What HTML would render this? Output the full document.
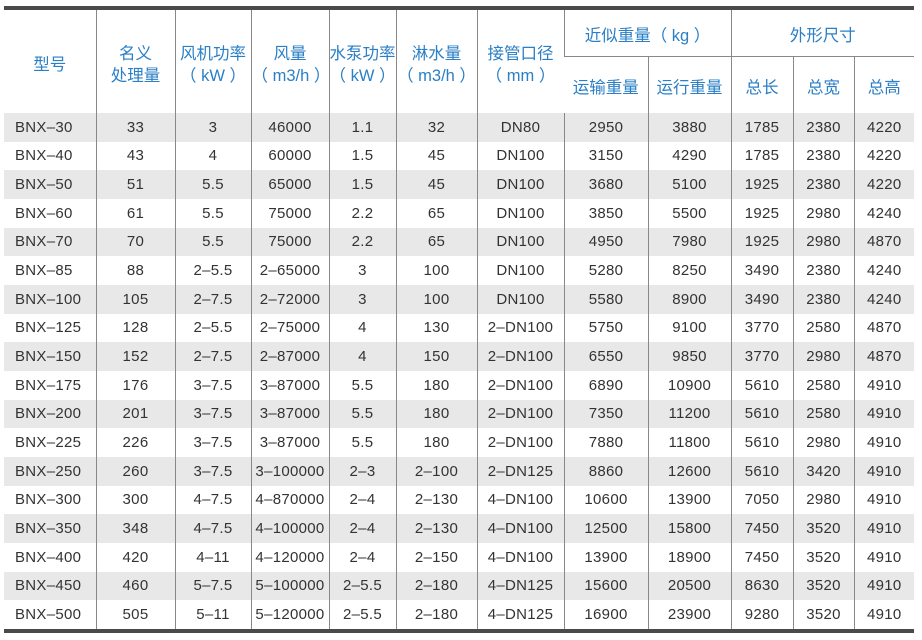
<!DOCTYPE html><html><head><meta charset="utf-8"><style>
body{margin:0;background:#fff;width:922px;height:640px;overflow:hidden;font-family:"Liberation Sans","Noto Sans CJK SC",sans-serif;}
.top{position:absolute;left:4px;top:6px;width:910px;height:4px;background:#4a4a4a}
.bot{position:absolute;left:4px;top:629px;width:910px;height:4px;background:#4a4a4a}
table{position:absolute;left:4px;top:10px;border-collapse:collapse;table-layout:fixed;width:910px}
td{padding:0;text-align:center;font-size:15px;color:#333;border-left:1.5px solid #888;white-space:nowrap;overflow:hidden;letter-spacing:0.3px}
td:first-child{border-left:none}
tr.h td{color:#2a7fc6;font-size:16.5px;line-height:22px;padding-top:6px;letter-spacing:0}
tr.d td{height:28.67px}
tr.d td:first-child{text-align:left;padding-left:11px}
tr.g td{background:#e8e8e8}
.sub{border-bottom:1.5px solid #888}
</style></head><body>
<div class="top"></div>
<table>
<colgroup><col style="width:92px"><col style="width:79px"><col style="width:76px"><col style="width:78px"><col style="width:67px"><col style="width:81px"><col style="width:87px"><col style="width:84px"><col style="width:83px"><col style="width:62px"><col style="width:61px"><col style="width:60px"></colgroup>
<tr class="h" style="height:46px"><td rowspan="2">型号</td><td rowspan="2">名义<br>处理量</td><td rowspan="2">风机功率<br>（ kW ）</td><td rowspan="2">风量<br>（ m3/h ）</td><td rowspan="2">水泵功率<br>（ kW ）</td><td rowspan="2">淋水量<br>（ m3/h ）</td><td rowspan="2">接管口径<br>（ mm ）</td><td colspan="2" class="sub">近似重量（ kg ）</td><td colspan="3" class="sub">外形尺寸</td></tr>
<tr class="h" style="height:57px"><td>运输重量</td><td>运行重量</td><td>总长</td><td>总宽</td><td>总高</td></tr>
<tr class="d g"><td>BNX–30</td><td>33</td><td>3</td><td>46000</td><td>1.1</td><td>32</td><td>DN80</td><td>2950</td><td>3880</td><td>1785</td><td>2380</td><td>4220</td></tr>
<tr class="d"><td>BNX–40</td><td>43</td><td>4</td><td>60000</td><td>1.5</td><td>45</td><td>DN100</td><td>3150</td><td>4290</td><td>1785</td><td>2380</td><td>4220</td></tr>
<tr class="d g"><td>BNX–50</td><td>51</td><td>5.5</td><td>65000</td><td>1.5</td><td>45</td><td>DN100</td><td>3680</td><td>5100</td><td>1925</td><td>2380</td><td>4220</td></tr>
<tr class="d"><td>BNX–60</td><td>61</td><td>5.5</td><td>75000</td><td>2.2</td><td>65</td><td>DN100</td><td>3850</td><td>5500</td><td>1925</td><td>2980</td><td>4240</td></tr>
<tr class="d g"><td>BNX–70</td><td>70</td><td>5.5</td><td>75000</td><td>2.2</td><td>65</td><td>DN100</td><td>4950</td><td>7980</td><td>1925</td><td>2980</td><td>4870</td></tr>
<tr class="d"><td>BNX–85</td><td>88</td><td>2–5.5</td><td>2–65000</td><td>3</td><td>100</td><td>DN100</td><td>5280</td><td>8250</td><td>3490</td><td>2380</td><td>4240</td></tr>
<tr class="d g"><td>BNX–100</td><td>105</td><td>2–7.5</td><td>2–72000</td><td>3</td><td>100</td><td>DN100</td><td>5580</td><td>8900</td><td>3490</td><td>2380</td><td>4240</td></tr>
<tr class="d"><td>BNX–125</td><td>128</td><td>2–5.5</td><td>2–75000</td><td>4</td><td>130</td><td>2–DN100</td><td>5750</td><td>9100</td><td>3770</td><td>2580</td><td>4870</td></tr>
<tr class="d g"><td>BNX–150</td><td>152</td><td>2–7.5</td><td>2–87000</td><td>4</td><td>150</td><td>2–DN100</td><td>6550</td><td>9850</td><td>3770</td><td>2980</td><td>4870</td></tr>
<tr class="d"><td>BNX–175</td><td>176</td><td>3–7.5</td><td>3–87000</td><td>5.5</td><td>180</td><td>2–DN100</td><td>6890</td><td>10900</td><td>5610</td><td>2580</td><td>4910</td></tr>
<tr class="d g"><td>BNX–200</td><td>201</td><td>3–7.5</td><td>3–87000</td><td>5.5</td><td>180</td><td>2–DN100</td><td>7350</td><td>11200</td><td>5610</td><td>2580</td><td>4910</td></tr>
<tr class="d"><td>BNX–225</td><td>226</td><td>3–7.5</td><td>3–87000</td><td>5.5</td><td>180</td><td>2–DN100</td><td>7880</td><td>11800</td><td>5610</td><td>2980</td><td>4910</td></tr>
<tr class="d g"><td>BNX–250</td><td>260</td><td>3–7.5</td><td>3–100000</td><td>2–3</td><td>2–100</td><td>2–DN125</td><td>8860</td><td>12600</td><td>5610</td><td>3420</td><td>4910</td></tr>
<tr class="d"><td>BNX–300</td><td>300</td><td>4–7.5</td><td>4–870000</td><td>2–4</td><td>2–130</td><td>4–DN100</td><td>10600</td><td>13900</td><td>7050</td><td>2980</td><td>4910</td></tr>
<tr class="d g"><td>BNX–350</td><td>348</td><td>4–7.5</td><td>4–100000</td><td>2–4</td><td>2–130</td><td>4–DN100</td><td>12500</td><td>15800</td><td>7450</td><td>3520</td><td>4910</td></tr>
<tr class="d"><td>BNX–400</td><td>420</td><td>4–11</td><td>4–120000</td><td>2–4</td><td>2–150</td><td>4–DN100</td><td>13900</td><td>18900</td><td>7450</td><td>3520</td><td>4910</td></tr>
<tr class="d g"><td>BNX–450</td><td>460</td><td>5–7.5</td><td>5–100000</td><td>2–5.5</td><td>2–180</td><td>4–DN125</td><td>15600</td><td>20500</td><td>8630</td><td>3520</td><td>4910</td></tr>
<tr class="d"><td>BNX–500</td><td>505</td><td>5–11</td><td>5–120000</td><td>2–5.5</td><td>2–180</td><td>4–DN125</td><td>16900</td><td>23900</td><td>9280</td><td>3520</td><td>4910</td></tr>
</table>
<div class="bot"></div>
</body></html>
